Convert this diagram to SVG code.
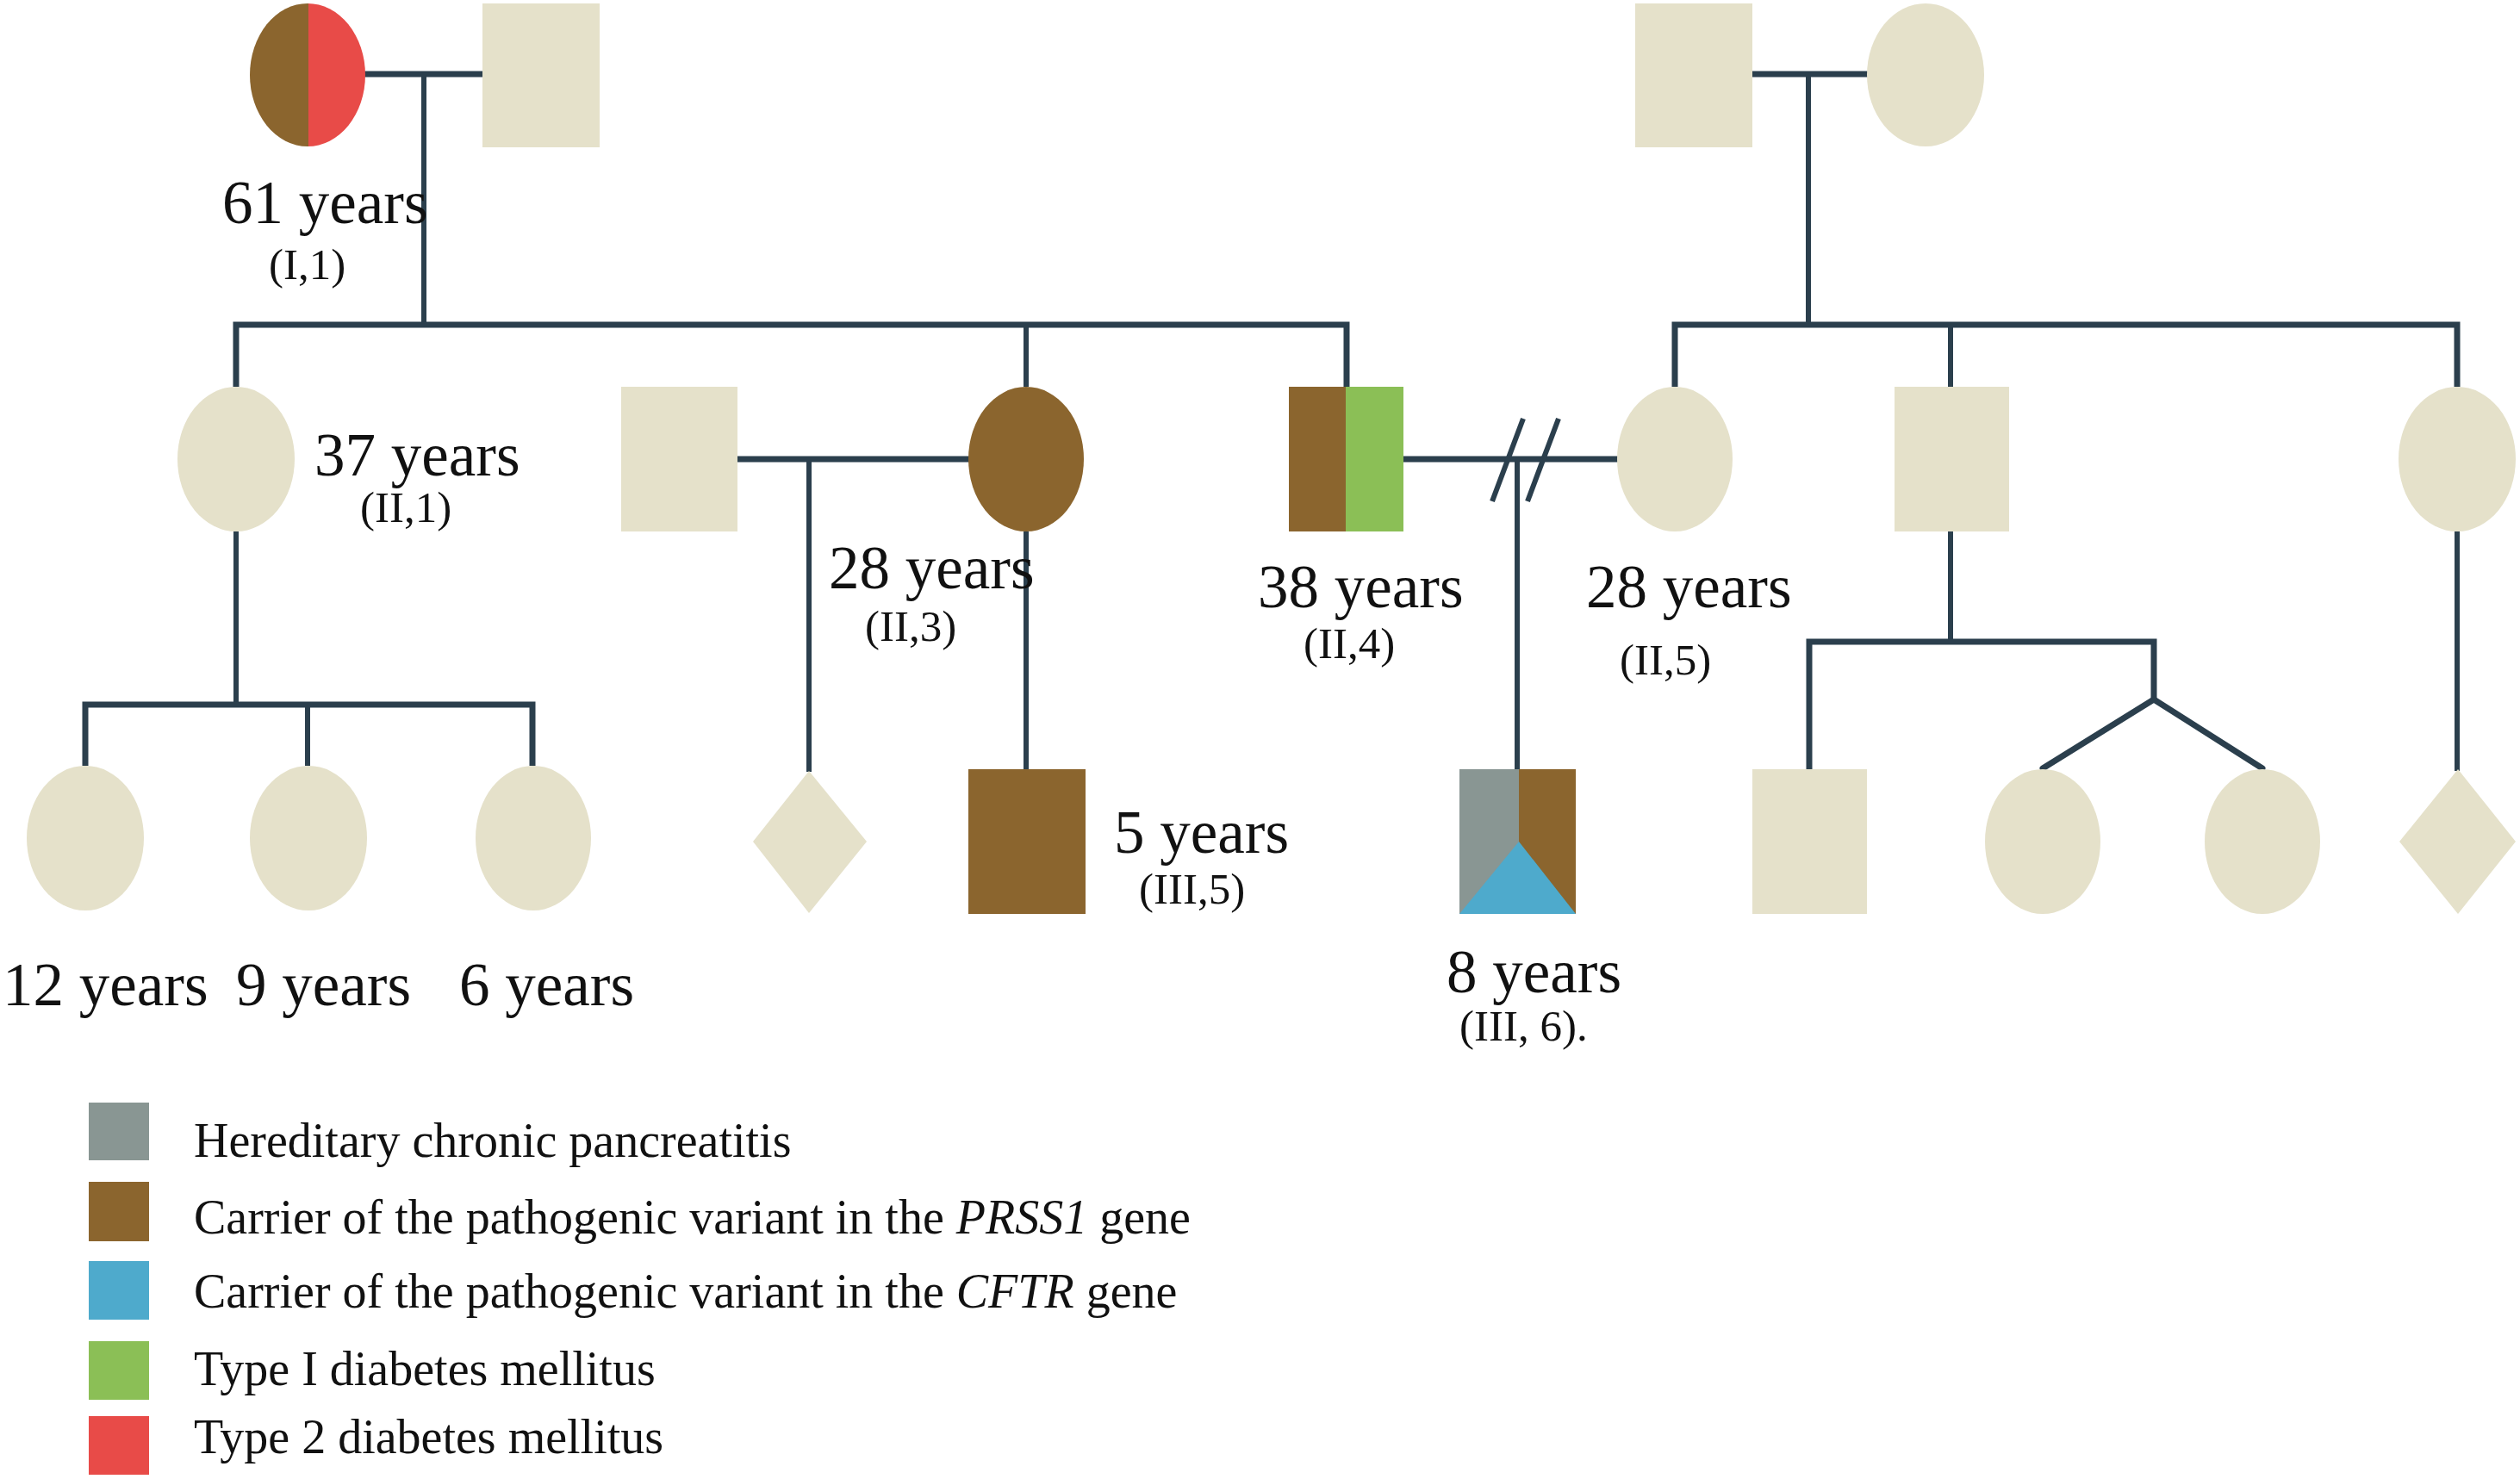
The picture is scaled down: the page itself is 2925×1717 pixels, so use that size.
<svg xmlns="http://www.w3.org/2000/svg" width="2925" height="1717" viewBox="0 0 2925 1717">
<style>
.bg{fill:#E5E1CA}
.br{fill:#8B652E}
.rd{fill:#E84B48}
.gn{fill:#8BBF56}
.bl{fill:#4EAACC}
.gy{fill:#899693}
.ln{stroke:#2B3F4D;stroke-width:6;fill:none}
.lh{stroke:#2B3F4D;stroke-width:7;fill:none}
.age{font-family:"Liberation Serif","Times New Roman",serif;font-size:71px;fill:#111}
.id{font-family:"Liberation Serif","Times New Roman",serif;font-size:51px;fill:#111}
.lg{font-family:"Liberation Serif","Times New Roman",serif;font-size:56px;fill:#111}
</style>
<defs>
<clipPath id="c11"><ellipse cx="357" cy="87" rx="67" ry="83"/></clipPath>
</defs>
<rect width="2925" height="1717" fill="#fff"/>
<g id="connectors">
<line class="lh" x1="420" y1="86" x2="562" y2="86"/>
<line class="ln" x1="492" y1="86" x2="492" y2="377"/>
<polyline class="lh" points="274,449 274,377 1563,377 1563,449"/>
<line class="ln" x1="1191" y1="377" x2="1191" y2="449"/>
<line class="lh" x1="2032" y1="86" x2="2170" y2="86"/>
<line class="ln" x1="2099" y1="86" x2="2099" y2="377"/>
<polyline class="lh" points="1944,449 1944,377 2852,377 2852,449"/>
<line class="ln" x1="2264" y1="377" x2="2264" y2="449"/>
<line class="ln" x1="274" y1="617" x2="274" y2="818"/>
<polyline class="lh" points="99,889 99,818 618,818 618,889"/>
<line class="ln" x1="357" y1="818" x2="357" y2="889"/>
<line class="lh" x1="855" y1="533" x2="1126" y2="533"/>
<line class="ln" x1="939" y1="533" x2="939" y2="896"/>
<line class="ln" x1="1191" y1="617" x2="1191" y2="893"/>
<line class="lh" x1="1628" y1="533" x2="1879" y2="533"/>
<line class="ln" x1="1768" y1="486" x2="1732" y2="582"/>
<line class="ln" x1="1809" y1="486" x2="1773" y2="582"/>
<line class="ln" x1="1761" y1="533" x2="1761" y2="893"/>
<line class="ln" x1="2264" y1="617" x2="2264" y2="745"/>
<polyline class="lh" points="2100,893 2100,745 2500,745 2500,812"/>
<polyline class="lh" stroke-linejoin="round" stroke-linecap="round" points="2371,892 2500,812 2626,892"/>
<line class="ln" x1="2852" y1="617" x2="2852" y2="895"/>
</g>
<g id="I1">
<g clip-path="url(#c11)">
<rect class="br" x="289" y="3" width="69" height="170"/>
<rect class="rd" x="358" y="3" width="68" height="170"/>
</g>
<text class="age" x="258" y="259">61 years</text>
<text class="id" x="312" y="324">(I,1)</text>
</g>
<g id="I2"><rect class="bg" x="560" y="4" width="136" height="167"/></g>
<g id="I3"><rect class="bg" x="1898" y="4" width="136" height="167"/></g>
<g id="I4"><ellipse class="bg" cx="2235" cy="87" rx="68" ry="83"/></g>
<g id="II1">
<ellipse class="bg" cx="274" cy="533" rx="68" ry="84"/>
<text class="age" x="365" y="552">37 years</text>
<text class="id" x="418" y="606">(II,1)</text>
</g>
<g id="II2"><rect class="bg" x="721" y="449" width="135" height="168"/></g>
<g id="II3">
<ellipse class="br" cx="1191" cy="533" rx="67" ry="84"/>
<text class="age" x="962" y="683">28 years</text>
<text class="id" x="1004" y="744">(II,3)</text>
</g>
<g id="II4">
<rect class="br" x="1496" y="449" width="67" height="168"/>
<rect class="gn" x="1562" y="449" width="67" height="168"/>
<text class="age" x="1460" y="705">38 years</text>
<text class="id" x="1513" y="764">(II,4)</text>
</g>
<g id="II5">
<ellipse class="bg" cx="1944" cy="533" rx="67" ry="84"/>
<text class="age" x="1841" y="705">28 years</text>
<text class="id" x="1880" y="783">(II,5)</text>
</g>
<g id="II6"><rect class="bg" x="2199" y="449" width="133" height="168"/></g>
<g id="II7"><ellipse class="bg" cx="2852" cy="533" rx="68" ry="84"/></g>
<g id="III1">
<ellipse class="bg" cx="99" cy="973" rx="68" ry="84"/>
<text class="age" x="3" y="1167">12 years</text>
</g>
<g id="III2">
<ellipse class="bg" cx="358" cy="973" rx="68" ry="84"/>
<text class="age" x="274" y="1167">9 years</text>
</g>
<g id="III3">
<ellipse class="bg" cx="619" cy="973" rx="67" ry="84"/>
<text class="age" x="533" y="1167">6 years</text>
</g>
<g id="III4"><polygon class="bg" points="939,895 1006,977 939,1060 874,977"/></g>
<g id="III5">
<rect class="br" x="1124" y="893" width="136" height="168"/>
<text class="age" x="1293" y="990">5 years</text>
<text class="id" x="1322" y="1049">(III,5)</text>
</g>
<g id="III6">
<rect class="gy" x="1694" y="893" width="69" height="168"/>
<rect class="br" x="1763" y="893" width="66" height="168"/>
<polygon class="bl" points="1763,977 1829,1061 1694,1061"/>
<text class="age" x="1679" y="1152">8 years</text>
<text class="id" x="1694" y="1208">(III, 6).</text>
</g>
<g id="III7"><rect class="bg" x="2034" y="893" width="133" height="168"/></g>
<g id="III8"><ellipse class="bg" cx="2371" cy="977" rx="67" ry="84"/></g>
<g id="III9"><ellipse class="bg" cx="2626" cy="977" rx="67" ry="84"/></g>
<g id="III10"><polygon class="bg" points="2853,893 2920,977 2853,1061 2785,977"/></g>
<g id="legend">
<rect class="gy" x="103" y="1280" width="70" height="67"/>
<text class="lg" x="225" y="1343">Hereditary chronic pancreatitis</text>
<rect class="br" x="103" y="1372" width="70" height="69"/>
<text class="lg" x="225" y="1432">Carrier of the pathogenic variant in the <tspan font-style="italic">PRSS1</tspan> gene</text>
<rect class="bl" x="103" y="1464" width="70" height="68"/>
<text class="lg" x="225" y="1518">Carrier of the pathogenic variant in the <tspan font-style="italic">CFTR</tspan> gene</text>
<rect class="gn" x="103" y="1557" width="70" height="68"/>
<text class="lg" x="225" y="1608">Type I diabetes mellitus</text>
<rect class="rd" x="103" y="1644" width="70" height="68"/>
<text class="lg" x="225" y="1687">Type 2 diabetes mellitus</text>
</g>
</svg>
